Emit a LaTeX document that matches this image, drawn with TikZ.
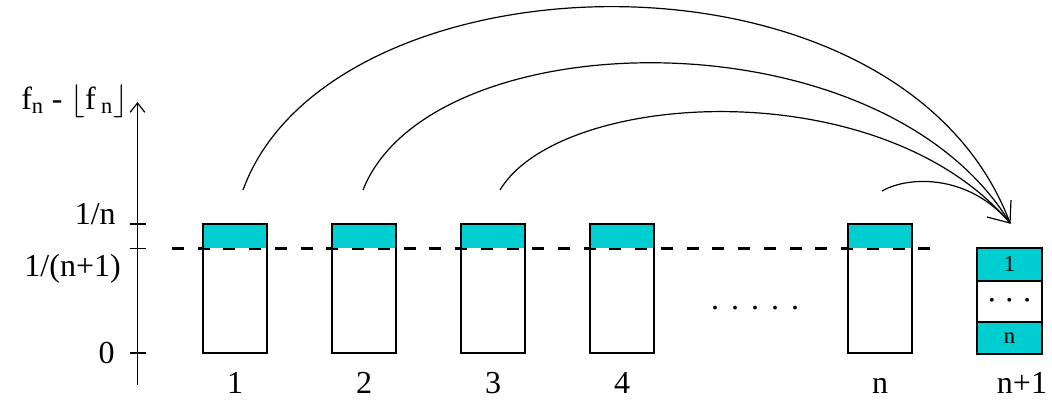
\documentclass[tikz,border=0pt]{standalone}
\usepackage{fontspec}
\setmainfont{Liberation Serif}
\usetikzlibrary{arrows.meta}
\definecolor{tq}{RGB}{0,206,209}
\begin{document}
\begin{tikzpicture}[x=0.75pt,y=-0.75pt,
  lbl/.style={font=\fontsize{24}{27}\selectfont, inner sep=0pt},
  bar/.style={draw, line width=1.3pt, minimum width=48pt, minimum height=96.75pt,
    inner sep=0pt,
    path picture={\fill[tq] (path picture bounding box.north west)
      rectangle ([yshift=-18pt]path picture bounding box.north east);}},
  cell/.style={draw, line width=1.3pt, minimum width=48.75pt, inner sep=0pt,
    font=\fontsize{17}{19}\selectfont},
  arc/.style={line width=0.9pt},
  tick/.style={line width=0.9pt},
]
\useasboundingbox (0,0) rectangle (1052,405);

% vertical axis with ticks
\coordinate (ax0) at (137.5,385);
\coordinate (ax1) at (137.5,102);
\draw[line width=0.9pt, -{Straight Barb[length=7pt,width=11pt,line width=0.9pt]}] (ax0) -- (ax1);
\draw[tick] (130,224) -- (146,224);
\draw[tick] (130,248.5) -- (146,248.5);
\draw[tick] (130,353) -- (146,353);

% axis labels
\node[lbl, anchor=base west] (ylab) at (21,109)
  {f\textsubscript{n} - $\lfloor$f\,\textsubscript{n}$\rfloor$};
\node[lbl, anchor=base east] (t1) at (116,224) {1/n};
\node[lbl, anchor=base east] (t2) at (121,276) {1/(n+1)};
\node[lbl, anchor=base east] (t0) at (115,363) {0};

% threshold line at 1/(n+1)
\draw[line width=2.6pt, dash pattern=on 9pt off 10.3pt] (172,248.5) -- (935,248.5);

% bars
\node[bar] (b1) at (235,288.5) {};
\node[bar] (b2) at (364,288.5) {};
\node[bar] (b3) at (493,288.5) {};
\node[bar] (b4) at (622,288.5) {};
\node[bar] (bn) at (880,288.5) {};

% bar labels
\node[lbl, anchor=base] (l1) at (235,393) {1};
\node[lbl, anchor=base] (l2) at (364,393) {2};
\node[lbl, anchor=base] (l3) at (493,393) {3};
\node[lbl, anchor=base] (l4) at (622,393) {4};
\node[lbl, anchor=base] (ln) at (880,393) {n};
\node[lbl, anchor=base] (lm) at (1022,393) {n+1};

\node[lbl] (dots) at (755,308)
  {.\hspace{9pt}.\hspace{9pt}.\hspace{9pt}.\hspace{9pt}.};

% stacked box n+1
\node[cell, fill=tq, minimum height=24.75pt] (s1) at (1009.5,264.5) {1};
\node[cell, minimum height=30.75pt] (s2) at (1009.5,301.5)
  {\fontsize{12}{13}\selectfont •\hspace{9pt}•\hspace{9pt}•};
\node[cell, fill=tq, minimum height=24pt] (s3) at (1009.5,338) {n\hspace{12pt}};

% arcs into the stacked box
\coordinate (tip) at (1010,223);
\coordinate (a1) at (243,190);
\coordinate (a2) at (363,190);
\coordinate (a3) at (500,190);
\coordinate (a4) at (882,191);
\draw[arc] (a1) .. controls (330,-50) and (900,-70) .. (tip);
\draw[arc] (a2) .. controls (430,20) and (880,10) .. (tip);
\draw[arc] (a3) .. controls (560,90) and (880,70) .. (tip);
\draw[arc] (a4) .. controls (910,175) and (970,175) .. (tip);
\draw[arc] (tip) ++(1,-23) -- (tip) -- ++(-23,-6);
\end{tikzpicture}
\end{document}
